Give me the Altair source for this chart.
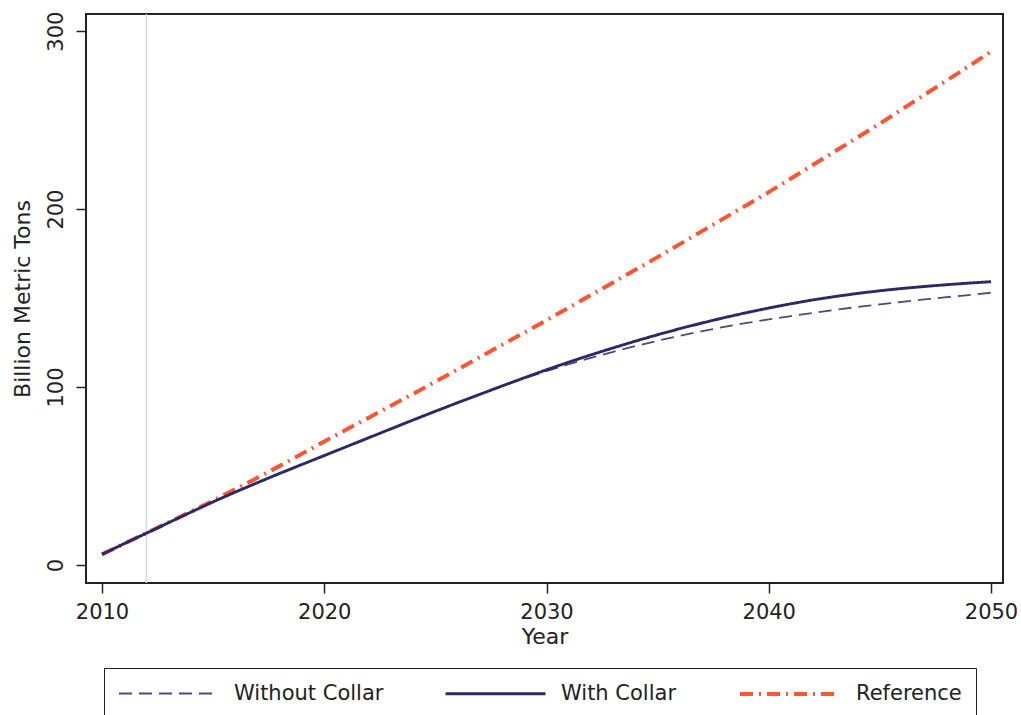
import altair as alt
import pandas as pd

years = list(range(2010, 2051))

without_collar = [
    6.0, 12.0, 17.9, 23.8, 29.7, 35.5, 41.0, 46.3, 51.5, 56.5,
    61.5, 66.5, 71.5, 76.5, 81.5, 86.4, 91.2, 95.9, 100.6, 104.9,
    109.0, 112.8, 116.4, 119.8, 123.0, 126.0, 128.8, 131.4, 133.8, 136.0,
    138.0, 139.9, 141.7, 143.4, 145.0, 146.5, 147.9, 149.2, 150.5, 151.7,
    153.0,
]
with_collar = [
    6.0, 12.0, 17.9, 23.8, 29.7, 35.5, 41.0, 46.3, 51.5, 56.5,
    61.5, 66.5, 71.5, 76.5, 81.5, 86.4, 91.2, 95.9, 100.6, 105.2,
    109.7, 114.0, 118.1, 122.0, 125.8, 129.4, 132.8, 136.0, 139.0, 141.8,
    144.4, 146.8, 149.0, 150.9, 152.6, 154.1, 155.4, 156.5, 157.5, 158.4,
    159.2,
]
reference = [
    6.0, 12.0, 18.0, 24.0, 30.0, 36.2, 42.6, 49.1, 55.7, 62.5,
    69.4, 76.1, 82.8, 89.5, 96.2, 103.0, 109.9, 116.8, 123.7, 130.6,
    137.5, 144.6, 151.7, 158.8, 165.9, 173.0, 180.3, 187.6, 194.9, 202.2,
    209.5, 217.2, 224.9, 232.6, 240.3, 248.0, 256.1, 264.2, 272.2, 280.3,
    288.4,
]

series_names = ["Without Collar", "With Collar", "Reference"]
series_colors = ["#4a4a7e", "#2a2a66", "#ff5533"]
series_dash = [[13, 7], [1, 0], [13, 6, 2, 6]]
series_width = [1.8, 4.0, 1.7]

# drawing order: reference underneath, with-collar on top
draw_order = ["Reference", "Without Collar", "With Collar"]
series_values = {
    "Without Collar": without_collar,
    "With Collar": with_collar,
    "Reference": reference,
}

x_ticks = [2010, 2020, 2030, 2040, 2050]
y_ticks = [0, 100, 200, 300]
marker_year = [2012]

rows = []
for name in draw_order:
    for yr, v in zip(years, series_values[name]):
        rows.append({"Year": yr, "Value": v, "Series": name})
df = pd.DataFrame(rows)

FONT = "DejaVu Sans"
LFS = 21
TFS = 22


def make_legend():
    return alt.Legend(
        title=None, orient="none", legendX=18, legendY=654,
        direction="horizontal", symbolType="M-1,0H9", symbolSize=400,
        labelOffset=94, columnPadding=55, padding=14,
        strokeColor="#222", labelFontSize=LFS, labelFont=FONT,
        labelColor="#222", labelLimit=400,
    )


x_scale = alt.Scale(domain=[2009.28, 2050.54], nice=False, zero=False)
y_scale = alt.Scale(domain=[-10.1, 309.6], nice=False, zero=False)

vline = alt.Chart(pd.DataFrame({"Year": marker_year})).mark_rule(
    color="#d8d8d8", strokeWidth=1.5
).encode(x=alt.X("Year:Q", scale=x_scale))

lines = alt.Chart(df).mark_line().encode(
    x=alt.X(
        "Year:Q",
        scale=x_scale,
        axis=alt.Axis(
            values=x_ticks, format="d", title="Year", domain=False, grid=False,
            tickSize=10, tickColor="#222", tickWidth=1.5, labelPadding=8,
            titlePadding=4, labelFontSize=LFS, titleFontSize=TFS,
            titleFontWeight="normal", labelColor="#222", titleColor="#222",
            labelFont=FONT, titleFont=FONT,
        ),
    ),
    y=alt.Y(
        "Value:Q",
        scale=y_scale,
        axis=alt.Axis(
            values=y_ticks, title="Billion Metric Tons", domain=False, grid=False,
            tickSize=10, tickColor="#222", tickWidth=1.5, labelAngle=270,
            labelAlign="center", labelBaseline="bottom", labelPadding=10,
            titlePadding=11, labelFontSize=LFS, titleFontSize=TFS,
            titleFontWeight="normal", labelColor="#222", titleColor="#222",
            labelFont=FONT, titleFont=FONT,
        ),
    ),
    color=alt.Color(
        "Series:N",
        scale=alt.Scale(domain=series_names, range=series_colors),
        legend=make_legend(),
    ),
    strokeDash=alt.StrokeDash(
        "Series:N",
        scale=alt.Scale(domain=series_names, range=series_dash),
        legend=make_legend(),
    ),
    strokeWidth=alt.StrokeWidth(
        "Series:N",
        scale=alt.Scale(domain=series_names, range=series_width),
        legend=make_legend(),
    ),
)

chart = (
    alt.layer(vline, lines)
    .properties(
        width=917,
        height=569,
        autosize=alt.AutoSizeParams(type="none"),
        padding={"left": 86, "top": 14, "right": 18, "bottom": 132},
        background="white",
    )
    .configure_view(stroke="#222", strokeWidth=2)
)

chart.save("out.html", embed_options={"renderer": "svg", "actions": False})
